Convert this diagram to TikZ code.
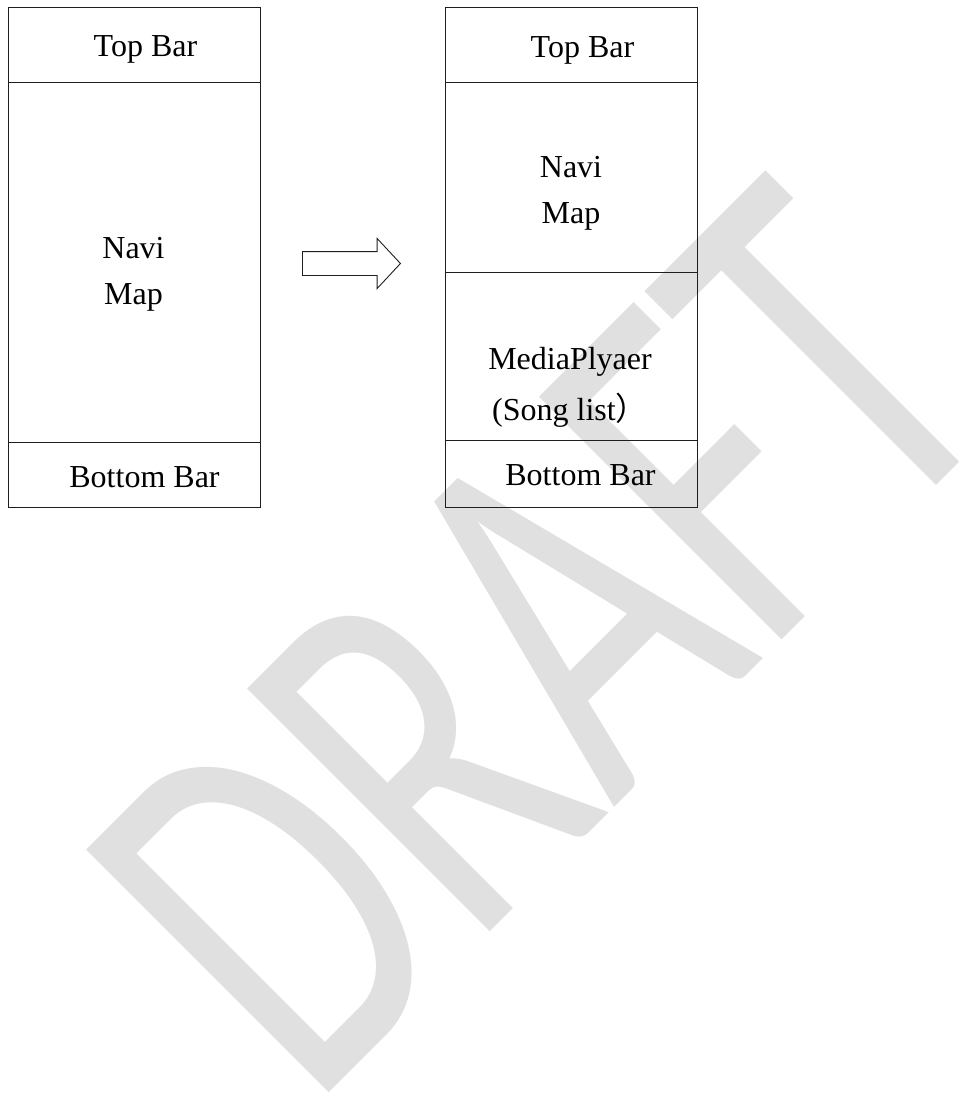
\documentclass[tikz,border=0pt]{standalone}
\usepackage{fontspec}
\setmainfont{Liberation Serif}
\newfontfamily\wmfont{Carlito}
\newfontfamily\cjkfont{Noto Sans CJK SC}
\usetikzlibrary{positioning, shapes.arrows}
\definecolor{wmgray}{RGB}{224, 224, 224}
\definecolor{framegray}{RGB}{30, 30, 30}

\begin{document}
\begin{tikzpicture}[
    x=1pt, y=-1pt,
    section/.style={draw=framegray, line width=1pt, minimum width=252pt, inner sep=0pt, outer sep=0pt},
    boxtext/.style={inner sep=0pt, font=\fontsize{32}{46}\selectfont, align=center},
    wmtext/.style={inner sep=0pt, text=wmgray, font=\wmfont\fontsize{369}{369}\selectfont},
    shiftarrow/.style={single arrow, draw=framegray, line width=0.9pt, minimum height=98pt, inner sep=0pt, inner ysep=11.5pt,
        single arrow head extend=13pt, single arrow tip angle=94, single arrow head indent=0pt}
]
    \useasboundingbox (0,0) rectangle (970,1108);

    % Watermark
    \node[wmtext, rotate=45, yscale=1.45] (draft) at (540,639) {DRAFT};

    % Sections - left screen
    \node[section, minimum height=74pt] (ltop) at (134,45) {};
    \node[section, minimum height=360pt, below=0pt of ltop] (lmap) {};
    \node[section, minimum height=65pt, below=0pt of lmap] (lbottom) {};

    % Sections - right screen
    \node[section, minimum height=74pt, right=185pt of ltop] (rtop) {};
    \node[section, minimum height=190pt, below=0pt of rtop] (rmap) {};
    \node[section, minimum height=168pt, below=0pt of rmap] (rmedia) {};
    \node[section, minimum height=67pt, below=0pt of rmedia] (rbottom) {};

    % Texts
    \node[boxtext, anchor=base] (ltoptext) at (145.5,57) {Top Bar};
    \node[boxtext, anchor=north] (lmaptext) at (133.5,237) {Navi\\Map};
    \node[boxtext, anchor=base] (lbottomtext) at (144.5,487) {Bottom Bar};
    \node[boxtext, anchor=base] (rtoptext) at (582.5,58) {Top Bar};
    \node[boxtext, anchor=north] (rmaptext) at (571,156) {Navi\\Map};
    \node[boxtext, anchor=north] (rmediatext) at (570,347) {MediaPlyaer\\[5pt](Song list{\cjkfont ）}};
    \node[boxtext, anchor=base] (rbottomtext) at (580.5,485) {Bottom Bar};

    % Arrow
    \node[shiftarrow, anchor=tail] (change) at (302,263.5) {};
\end{tikzpicture}
\end{document}
